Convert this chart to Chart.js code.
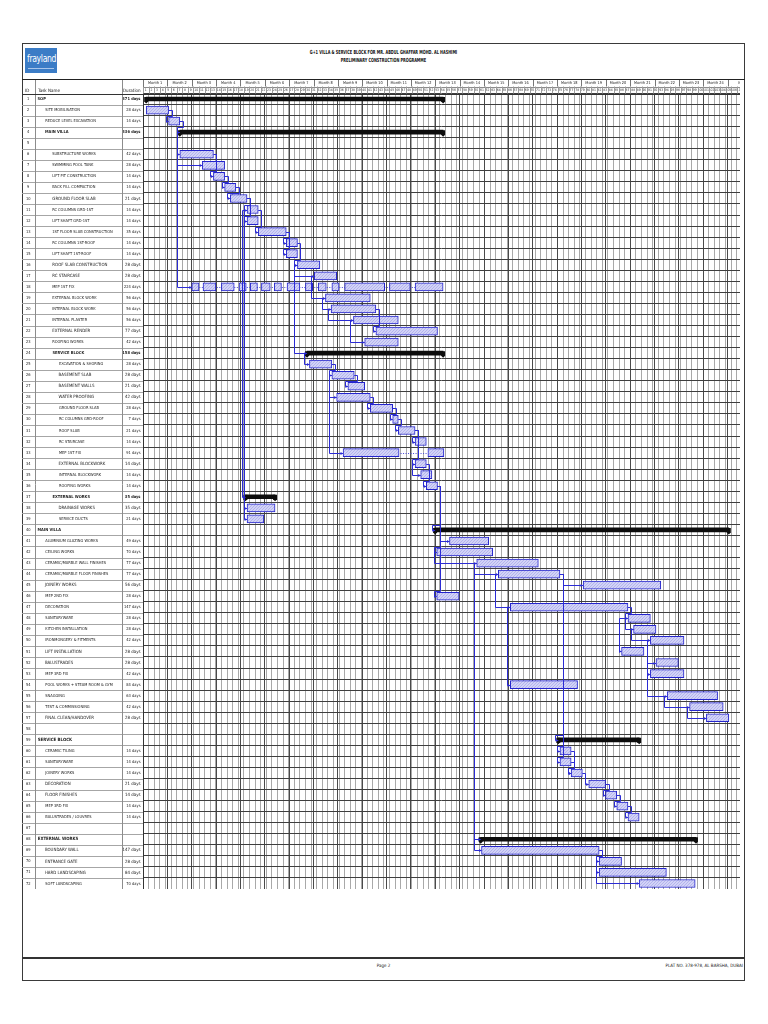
<!DOCTYPE html>
<html lang="en">
<head>
<meta charset="utf-8">
<title>G+1 Villa &amp; Service Block - Preliminary Construction Programme</title>
<script src="https://cdn.jsdelivr.net/npm/chart.js@4.4.1/dist/chart.umd.min.js"></script>
<style>
  html, body { margin: 0; padding: 0; background: #fff; }
  body { width: 768px; height: 1024px; position: relative; overflow: hidden;
         font-family: 'Liberation Sans Narrow', 'DejaVu Sans Condensed', 'Liberation Sans', sans-serif; color: #1a1a1a; }
  .abs { position: absolute; white-space: nowrap; }
  #frame { left: 22px; top: 43px; width: 723px; height: 938px; border: 1px solid #3a3a3a; box-sizing: border-box; }
  #headRule { left: 22px; top: 79px; width: 723px; height: 1px; background: #222; }
  #logo { left: 25px; top: 48px; width: 32px; height: 25px; background: #3b7cc6; overflow: hidden; }
  #logo .brand { position: absolute; left: 1.5px; top: 5px; font: 10px 'Liberation Sans Narrow', 'DejaVu Sans Condensed', sans-serif;
                 color: #fff; letter-spacing: -0.4px; transform: scaleX(0.86); transform-origin: 0 0; }
  #logo .tag { position: absolute; left: 3px; top: 20px; width: 26px; height: 1px; background: #a9c6ea; }
  #title { left: 22px; width: 723px; top: 48px; text-align: center; font-weight: bold; font-size: 5.6px; line-height: 8px;
           transform: scaleX(0.69); transform-origin: 361.5px 0; color: #111; }
  .hdr { top: 88px; font-size: 4.5px; line-height: 5px; }
  #gantt { position: absolute; left: 22px; top: 80px; }
  #footRule { left: 22px; top: 957px; width: 723px; height: 2px; background: #333; }
  #page { left: 22px; width: 723px; top: 963px; text-align: center; font-size: 4.5px; }
  #addr { right: 25px; top: 963px; font-size: 4.5px; }
</style>
</head>
<body>
<div class="abs" id="frame"></div>
<div class="abs" id="logo"><span class="brand">frayland</span><span class="tag"></span></div>
<div class="abs" id="title">G+1 VILLA &amp; SERVICE BLOCK FOR MR. ABDUL GHAFFAR MOHD. AL HASHIMI<br>PRELIMINARY CONSTRUCTION PROGRAMME</div>
<div class="abs" id="headRule"></div>
<canvas id="gantt" width="718" height="809"></canvas>
<div class="abs hdr" style="left:25px">ID</div>
<div class="abs hdr" style="left:38px">Task Name</div>
<div class="abs hdr" style="left:123px">Duration</div>
<div class="abs" id="footRule"></div>
<div class="abs" id="page">Page 2</div>
<div class="abs" id="addr">PLAT NO. 378-978, AL BARSHA, DUBAI</div>
<script>
// task list
const names = [
  'SOP', 'SITE MOBILISATION', 'REDUCE LEVEL EXCAVATION', 'MAIN VILLA', '',
  'SUBSTRUCTURE WORKS', 'SWIMMING POOL TANK', 'LIFT PIT CONSTRUCTION', 'BACK FILL COMPACTION',
  'GROUND FLOOR SLAB', 'RC COLUMNS GRD-1ST', 'LIFT SHAFT GRD-1ST', '1ST FLOOR SLAB CONSTRUCTION',
  'RC COLUMNS 1ST-ROOF', 'LIFT SHAFT 1ST-ROOF', 'ROOF SLAB CONSTRUCTION', 'RC STAIRCASE', 'MEP 1ST FIX',
  'EXTERNAL BLOCK WORK', 'INTERNAL BLOCK WORK', 'INTERNAL PLASTER', 'EXTERNAL RENDER', 'ROOFING WORKS',
  'SERVICE BLOCK',
  'EXCAVATION & SHORING', 'BASEMENT SLAB', 'BASEMENT WALLS', 'WATER PROOFING', 'GROUND FLOOR SLAB',
  'RC COLUMNS GRD-ROOF', 'ROOF SLAB', 'RC STAIRCASE', 'MEP 1ST FIX', 'EXTERNAL BLOCKWORK',
  'INTERNAL BLOCKWORK', 'ROOFING WORKS',
  'EXTERNAL WORKS', 'DRAINAGE WORKS', 'SERVICE DUCTS',
  'MAIN VILLA',
  'ALUMINIUM GLAZING WORKS', 'CEILING WORKS', 'CERAMIC/MARBLE WALL FINISHES', 'CERAMIC/MARBLE FLOOR FINISHES',
  'JOINERY WORKS', 'MEP 2ND FIX', 'DECORATION', 'SANITARYWARE', 'KITCHEN INSTALLATION',
  'IRONMONGERY & FITMENTS', 'LIFT INSTALLATION', 'BALUSTRADES', 'MEP 3RD FIX',
  'POOL WORKS + STEAM ROOM & GYM', 'SNAGGING', 'TEST & COMMISSIONING', 'FINAL CLEAN/HANDOVER',
  '', 'SERVICE BLOCK',
  'CERAMIC TILING', 'SANITARYWARE', 'JOINERY WORKS', 'DECORATION', 'FLOOR FINISHES', 'MEP 3RD FIX',
  'BALUSTRADES / LOUVRES',
  '', 'EXTERNAL WORKS',
  'BOUNDARY WALL', 'ENTRANCE GATE', 'HARD LANDSCAPING', 'SOFT LANDSCAPING'
];
const ids = names.map((_, i) => String(i + 1));

const levels = [
  0, 1, 1, 1, 0,
  2, 2, 2, 2, 2, 2, 2, 2, 2, 2, 2, 2, 2, 2, 2, 2, 2, 2,
  2,
  3, 3, 3, 3, 3, 3, 3, 3, 3, 3, 3, 3,
  2, 3, 3,
  0,
  1, 1, 1, 1, 1, 1, 1, 1, 1, 1, 1, 1, 1, 1, 1, 1, 1,
  0, 0,
  1, 1, 1, 1, 1, 1, 1,
  0, 0,
  1, 1, 1, 1
];

const durations = [
  '371 days', '28 days', '14 days', '336 days', '',
  '42 days', '28 days', '14 days', '14 days', '21 days', '14 days', '14 days', '35 days', '14 days',
  '14 days', '28 days', '28 days', '224 days', '56 days', '56 days', '56 days', '77 days', '42 days',
  '158 days',
  '28 days', '28 days', '21 days', '42 days', '28 days', '7 days', '21 days', '14 days', '91 days',
  '14 days', '14 days', '14 days',
  '35 days', '35 days', '21 days',
  '',
  '49 days', '70 days', '77 days', '77 days', '56 days', '28 days', '147 days', '28 days', '28 days',
  '42 days', '28 days', '28 days', '42 days', '84 days', '63 days', '42 days', '28 days',
  '', '',
  '14 days', '14 days', '14 days', '21 days', '14 days', '14 days', '14 days',
  '', '',
  '147 days', '28 days', '84 days', '70 days'
];

// bar start / finish, in days from the left edge of Month 1
const barStart = [
  4, 4, 32, 46, null,
  46, 74, 88, 102, 109, 130, 130, 144, 179, 179, 193, 214, 61, 228, 235, 263, 291, 277,
  205,
  208, 236, 256, 242, 284, 312, 319, 340, 250, 340, 347, 354,
  128, 130, 130,
  365,
  383, 367, 417, 444, 550, 367, 459, 606, 613, 634, 598, 641, 634, 459, 655, 683, 704,
  null, 519,
  521, 521, 535, 557, 578, 592, 606,
  null, 422,
  423, 570, 570, 620
];
const barEnd = [
  375, 32, 46, 375, null,
  88, 102, 102, 116, 130, 144, 144, 179, 193, 193, 221, 242, 375, 284, 291, 319, 368, 319,
  375,
  236, 264, 277, 284, 312, 319, 340, 354, 376, 354, 361, 368,
  165, 165, 151,
  732,
  432, 437, 494, 521, 647, 395, 606, 634, 641, 676, 626, 669, 676, 543, 718, 725, 732,
  null, 620,
  535, 535, 549, 578, 592, 606, 620,
  null, 691,
  570, 598, 654, 690
];

// split tasks
const splitSegments = {
  '18': [[61, 70], [75, 91], [98, 114], [120, 129], [134, 143], [148, 159], [164, 173], [180, 196],
         [203, 212], [219, 229], [236, 245], [252, 302], [308, 334], [340, 375]],
  '33': [[250, 320], [356, 376]]
};

const summaryIds = ['1', '4', '24', '37', '40', '59', '68'];
// rows typed in the larger font on the sheet
const largeTextIds = ['10', '16', '17', '22', '26', '27', '28', '34', '38', '45', '51', '52', '57',
                      '59', '63', '64', '68', '69', '70', '71'];

// predecessor, successor, link type
const links = [
  ['2', '3', 'FS'], ['3', '4', 'FS'], ['4', '6', 'SS'], ['4', '7', 'SS'], ['4', '18', 'SS'],
  ['6', '8', 'FS'], ['8', '9', 'FS'], ['9', '10', 'FS'], ['10', '11', 'FS'], ['10', '12', 'FS'],
  ['11', '13', 'FS'], ['13', '14', 'FS'], ['13', '15', 'FS'], ['14', '16', 'FS'], ['16', '17', 'SS'],
  ['16', '24', 'SS'], ['17', '19', 'SS'], ['19', '20', 'SS'], ['20', '21', 'SS'], ['20', '22', 'FS'],
  ['21', '23', 'SS'], ['11', '37', 'SS'], ['11', '38', 'SS'], ['11', '39', 'SS'], ['24', '25', 'SS'],
  ['25', '26', 'FS'], ['26', '27', 'FS'], ['26', '28', 'SS'], ['26', '33', 'SS'], ['28', '29', 'FS'],
  ['29', '30', 'FS'], ['30', '31', 'FS'], ['31', '32', 'FS'], ['31', '34', 'FS'], ['34', '35', 'SS'],
  ['34', '36', 'FS'], ['36', '40', 'FS'], ['36', '41', 'FS'], ['36', '42', 'FS'], ['36', '46', 'FS'],
  ['42', '43', 'SS'], ['43', '44', 'SS'], ['43', '68', 'SS'], ['43', '69', 'SS'], ['44', '45', 'FS'],
  ['44', '47', 'SS'], ['47', '54', 'SS'], ['44', '59', 'FS'], ['44', '60', 'FS'], ['44', '61', 'FS'],
  ['47', '48', 'FS'], ['48', '49', 'SS'], ['48', '51', 'SS'], ['49', '50', 'SS'], ['50', '52', 'SS'],
  ['50', '53', 'SS'], ['50', '55', 'SS'], ['55', '56', 'SS'], ['56', '57', 'SS'], ['60', '62', 'FS'],
  ['61', '62', 'FS'], ['62', '63', 'FS'], ['63', '64', 'FS'], ['64', '65', 'FS'], ['65', '66', 'FS'],
  ['69', '70', 'FS'], ['70', '71', 'SS'], ['70', '72', 'SS']
];

// timescale
const monthLabels = [
  'Month 1', 'Month 2', 'Month 3', 'Month 4', 'Month 5', 'Month 6', 'Month 7', 'Month 8',
  'Month 9', 'Month 10', 'Month 11', 'Month 12', 'Month 13', 'Month 14', 'Month 15', 'Month 16',
  'Month 17', 'Month 18', 'Month 19', 'Month 20', 'Month 21', 'Month 22', 'Month 23', 'Month 24', 'M'
];
const X_MAX = 746;
const MONTH_DAYS = 30.4375;
const monthStarts = monthLabels.map((_, i) => i * MONTH_DAYS);
const weekStarts = Array.from({length: Math.floor(X_MAX / 7) + 1}, (_, i) => i * 7);
const weekLabels = weekStarts.map((_, i) => String(i + 1));

const FONT = "'Liberation Sans Narrow', 'DejaVu Sans Condensed', 'Liberation Sans', sans-serif";
const PX_PER_DAY = (718 - 121) / X_MAX;

window.addEventListener('load', () => {
  const isSummary = i => summaryIds.includes(ids[i]);
  const sizeOf = i => largeTextIds.includes(ids[i]) ? 4.35 : 4.0;
  const rowFont = i => ({family: FONT, size: sizeOf(i), weight: isSummary(i) ? 'bold' : 'normal'});

  var measure = document.createElement('canvas').getContext('2d');
  function indent(i) {
    measure.font = (isSummary(i) ? 'bold ' : '') + sizeOf(i) + 'px ' + FONT;
    var sp = measure.measureText('          ').width / 10;
    return ' '.repeat(Math.round((3 + levels[i] * 7) / sp));
  }

  function hatch() {
    var c = document.createElement('canvas');
    c.width = 3; c.height = 3;
    var g = c.getContext('2d');
    g.fillStyle = '#d2d3f6';
    g.fillRect(0, 0, 3, 3);
    g.fillStyle = '#b3b3ee';
    g.fillRect(0, 0, 1, 1);
    g.fillRect(1, 2, 1, 1);
    g.fillRect(2, 1, 1, 1);
    return g.createPattern(c, 'repeat');
  }

  var taskBars = [];
  var summaryBars = [];
  ids.forEach((id, i) => {
    if (barStart[i] === null) return;
    if (isSummary(i)) {
      summaryBars.push({x: [barStart[i], barEnd[i]], y: id});
    } else if (splitSegments[id]) {
      splitSegments[id].forEach(s => taskBars.push({x: s, y: id}));
    } else {
      taskBars.push({x: [barStart[i], barEnd[i]], y: id});
    }
  });

  const snap = v => Math.round(v) + 0.5;

  // table rules, header cells
  var ganttLines = {
    id: 'ganttLines',
    afterDraw(chart) {
      var ctx = chart.ctx, ca = chart.chartArea, s = chart.scales;
      var top = s.xm.top, left = s.yId.left;
      ctx.save();
      ctx.lineWidth = 1;
      function line(x1, y1, x2, y2, c) {
        ctx.strokeStyle = c;
        ctx.beginPath(); ctx.moveTo(x1, y1); ctx.lineTo(x2, y2); ctx.stroke();
      }
      for (var i = 0; i <= ids.length; i++) {
        var py = snap(s.y.getPixelForValue(i - 0.5));
        line(left, py, ca.left, py, '#a6a6a6');
      }
      [s.yId.right, s.y.right].forEach(px => line(snap(px), top, snap(px), ca.bottom, '#8c8c8c'));
      line(snap(ca.left), top, snap(ca.left), ca.bottom, '#333');
      line(snap(ca.right), top, snap(ca.right), ca.bottom, '#333');
      line(ca.left, snap(s.xm.bottom), ca.right, snap(s.xm.bottom), '#8c8c8c');
      line(left, snap(ca.top), ca.right, snap(ca.top), '#333');
      monthStarts.forEach(v => {
        var px = snap(s.x.getPixelForValue(v));
        line(px, top, px, s.xm.bottom, '#777');
      });
      weekStarts.forEach(v => {
        var px = snap(s.x.getPixelForValue(v));
        line(px, s.x.top, px, s.x.bottom, '#9c9c9c');
      });
      ctx.restore();
    }
  };

  // dotted line joining the pieces of a split task
  var splitDots = {
    id: 'splitDots',
    beforeDatasetsDraw(chart) {
      var ctx = chart.ctx, x = chart.scales.x, y = chart.scales.y;
      ctx.save();
      ctx.strokeStyle = '#4848d6';
      ctx.lineWidth = 1;
      ctx.setLineDash([1, 1.5]);
      Object.keys(splitSegments).forEach(id => {
        var seg = splitSegments[id];
        var py = snap(y.getPixelForValue(ids.indexOf(id)));
        ctx.beginPath();
        ctx.moveTo(x.getPixelForValue(seg[0][0]), py);
        ctx.lineTo(x.getPixelForValue(seg[seg.length - 1][1]), py);
        ctx.stroke();
      });
      ctx.restore();
    }
  };

  // summary end caps and dependency arrows
  var linksAndCaps = {
    id: 'linksAndCaps',
    afterDatasetsDraw(chart) {
      var ctx = chart.ctx, x = chart.scales.x, y = chart.scales.y;
      var half = (y.getPixelForValue(1) - y.getPixelForValue(0)) / 2;
      ctx.save();
      ctx.fillStyle = '#0d0d0d';
      chart.getDatasetMeta(1).data.forEach(el => {
        [Math.min(el.x, el.base), Math.max(el.x, el.base)].forEach(px => {
          ctx.beginPath();
          ctx.moveTo(px - 2, el.y - 2);
          ctx.lineTo(px + 2, el.y - 2);
          ctx.lineTo(px + 2, el.y + 2.5);
          ctx.lineTo(px, el.y + 4.5);
          ctx.lineTo(px - 2, el.y + 2.5);
          ctx.closePath();
          ctx.fill();
        });
      });
      ctx.strokeStyle = '#2b2bd4';
      ctx.fillStyle = '#2b2bd4';
      ctx.lineWidth = 1;
      links.forEach(l => {
        var ia = ids.indexOf(l[0]), ib = ids.indexOf(l[1]);
        var ya = snap(y.getPixelForValue(ia)), yb = snap(y.getPixelForValue(ib));
        var xs = x.getPixelForValue(barStart[ib]);
        var pts;
        if (l[2] === 'SS') {
          var xa = x.getPixelForValue(barStart[ia]);
          var xv = snap(Math.min(xa, xs) - 3);
          pts = [[xa, ya], [xv, ya], [xv, yb], [xs, yb]];
        } else {
          var xe = x.getPixelForValue(barEnd[ia]);
          var xr = snap(xe + 3);
          if (xs >= xr + 2) {
            pts = [[xe, ya], [xr, ya], [xr, yb], [xs, yb]];
          } else {
            var ym = snap(yb - half), xl = snap(xs - 3);
            pts = [[xe, ya], [xr, ya], [xr, ym], [xl, ym], [xl, yb], [xs, yb]];
          }
        }
        ctx.beginPath();
        pts.forEach((p, k) => k ? ctx.lineTo(p[0], p[1]) : ctx.moveTo(p[0], p[1]));
        ctx.stroke();
        ctx.beginPath();
        ctx.moveTo(xs, yb);
        ctx.lineTo(xs - 2.5, yb - 1.6);
        ctx.lineTo(xs - 2.5, yb + 1.6);
        ctx.closePath();
        ctx.fill();
      });
      ctx.restore();
    }
  };

  new Chart(document.getElementById('gantt'), {
    type: 'bar',
    data: {
      labels: ids,
      datasets: [
        {
          label: 'Tasks',
          data: taskBars,
          backgroundColor: hatch(),
          borderColor: '#2424cc',
          borderWidth: 1,
          borderSkipped: false,
          barThickness: 8,
          grouped: false
        },
        {
          label: 'Summary',
          data: summaryBars,
          backgroundColor: '#0d0d0d',
          borderWidth: 0,
          barThickness: 4,
          grouped: false
        }
      ]
    },
    options: {
      indexAxis: 'y',
      responsive: false,
      animation: false,
      events: [],
      layout: {padding: 0},
      plugins: {legend: {display: false}, tooltip: {enabled: false}},
      scales: {
        x: {
          type: 'linear', position: 'top', weight: 0, min: 0, max: X_MAX,
          afterBuildTicks: s => { s.ticks = weekStarts.map(v => ({value: v})); },
          afterFit: s => { s.height = 7; s.paddingLeft = 0; s.paddingRight = 0; },
          grid: {color: '#a9a9a9', lineWidth: 1, drawTicks: false},
          border: {display: false},
          ticks: {
            autoSkip: false, maxRotation: 0, minRotation: 0, padding: 1,
            labelOffset: 3.5 * PX_PER_DAY,
            font: {family: FONT, size: 3.4}, color: '#333',
            callback: (v, i) => weekLabels[i]
          }
        },
        xm: {
          type: 'linear', position: 'top', weight: 1, min: 0, max: X_MAX,
          afterBuildTicks: s => { s.ticks = monthStarts.map(v => ({value: v})); },
          afterFit: s => { s.height = 6.5; s.paddingLeft = 0; s.paddingRight = 0; },
          grid: {color: '#4a4a4a', lineWidth: 1, drawTicks: false},
          border: {display: false},
          ticks: {
            autoSkip: false, maxRotation: 0, minRotation: 0, padding: 1,
            labelOffset: MONTH_DAYS / 2 * PX_PER_DAY,
            font: {family: FONT, size: 3.9}, color: '#222',
            callback: (v, i) => monthLabels[i]
          }
        },
        y: {
          type: 'category', position: 'left', weight: 1, offset: true,
          afterFit: s => { s.width = 87; s.paddingTop = 0; s.paddingBottom = 0; },
          grid: {offset: true, color: '#3e3e3e', lineWidth: 1, drawTicks: false},
          border: {display: false},
          ticks: {
            autoSkip: false, padding: 0, crossAlign: 'far', color: '#222',
            font: c => rowFont(c.index),
            callback: (v, i) => names[i] ? indent(i) + names[i] : ''
          }
        },
        yDur: {
          type: 'category', position: 'left', weight: 0, offset: true, labels: ids,
          afterFit: s => { s.width = 21; s.paddingTop = 0; s.paddingBottom = 0; },
          grid: {display: false, drawTicks: false},
          border: {display: false},
          ticks: {
            autoSkip: false, padding: 2.5, crossAlign: 'near', color: '#222',
            font: c => rowFont(c.index),
            callback: (v, i) => durations[i]
          }
        },
        yId: {
          type: 'category', position: 'left', weight: 2, offset: true, labels: ids,
          afterFit: s => { s.width = 13; s.paddingTop = 0; s.paddingBottom = 0; },
          grid: {display: false, drawTicks: false},
          border: {display: false},
          ticks: {
            autoSkip: false, padding: 4.5, crossAlign: 'center', color: '#222',
            font: {family: FONT, size: 4.0},
            callback: (v, i) => ids[i]
          }
        }
      }
    },
    plugins: [ganttLines, splitDots, linksAndCaps]
  });
});
</script>
</body>
</html>
